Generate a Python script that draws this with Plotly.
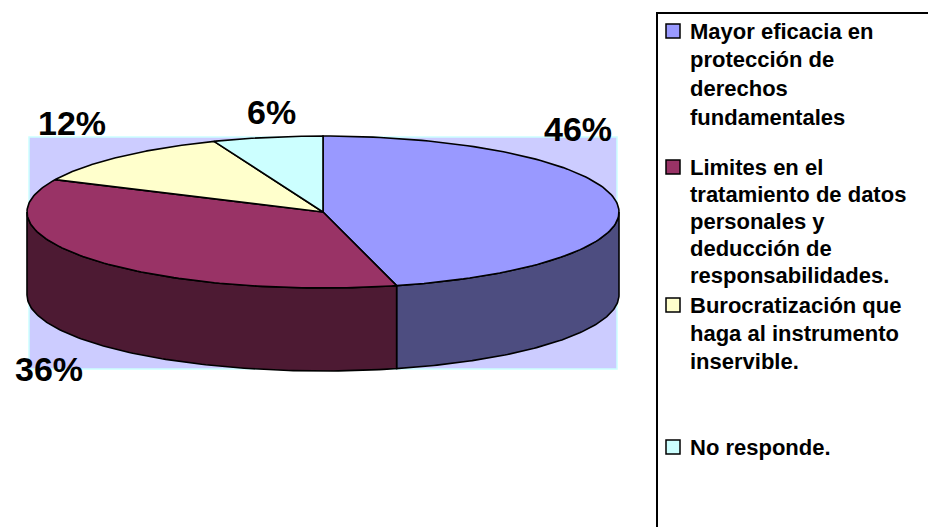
import numpy as np
import plotly.graph_objects as go

# ---- data ----
categories = [
    "Mayor eficacia en<br>protección de<br>derechos<br>fundamentales",
    "Limites en el<br>tratamiento de datos<br>personales y<br>deducción de<br>responsabilidades.",
    "Burocratización que<br>haga al instrumento<br>inservible.",
    "No responde.",
]
values = [46, 36, 12, 6]
labels = ["46%", "36%", "12%", "6%"]

# ---- styles / layout ----
top_colors = ["#9999FF", "#993366", "#FFFFCC", "#CCFFFF"]
side_colors = ["#4D4D80", "#4D1A33", "#80806A", "#6A8080"]
CX, CY, RX, RY, DEPTH = 323, 212, 296, 76, 83
label_pos = [(578, 129), (49, 369), (72, 123), (271, 112)]
legend_first_line_y = [31, 167, 305, 447]
legend_line_h = [28.7, 27.0, 28.0, 28.0]
FONT = "Liberation Sans, Arial, sans-serif"

fig = go.Figure()

total = float(sum(values))
bounds = np.concatenate([[0], np.cumsum(values)]) / total * 360.0


def rim(a0, a1, dy=0.0, n=120):
    t = np.radians(np.linspace(a0, a1, n))
    return CX + RX * np.sin(t), CY - RY * np.cos(t) + dy


# side walls (front half only: 90..270 deg)
for i in range(len(values)):
    a0, a1 = max(bounds[i], 90.0), min(bounds[i + 1], 270.0)
    if a1 <= a0:
        continue
    xt, yt = rim(a0, a1)
    xb, yb = rim(a0, a1, DEPTH)
    xs = np.concatenate([xt, xb[::-1], xt[:1]])
    ys = np.concatenate([yt, yb[::-1], yt[:1]])
    fig.add_trace(go.Scatter(x=xs, y=ys, mode="lines", fill="toself",
                             fillcolor=side_colors[i],
                             line=dict(color="black", width=1.6),
                             hoverinfo="skip", showlegend=False))

# top faces
for i in range(len(values)):
    xt, yt = rim(bounds[i], bounds[i + 1])
    xs = np.concatenate([[CX], xt, [CX]])
    ys = np.concatenate([[CY], yt, [CY]])
    fig.add_trace(go.Scatter(x=xs, y=ys, mode="lines", fill="toself",
                             fillcolor=top_colors[i],
                             line=dict(color="black", width=1.6),
                             hoverinfo="skip", showlegend=False))

shapes = [
    dict(type="rect", xref="x", yref="y", layer="below",
         x0=CX - RX + 2, x1=CX + RX - 2, y0=CY - RY + 1, y1=CY + RY + DEPTH - 2,
         fillcolor="#CCCCFF", line=dict(color="#CCFFFF", width=1.5)),
    dict(type="rect", xref="x", yref="y", x0=657, x1=960, y0=13, y1=560,
         fillcolor="rgba(0,0,0,0)", line=dict(color="black", width=2)),
]

annotations = []
for (lx, ly), txt in zip(label_pos, labels):
    annotations.append(dict(x=lx, y=ly, xref="x", yref="y", text="<b>" + txt + "</b>",
                            showarrow=False, xanchor="center", yanchor="middle",
                            font=dict(family=FONT, size=34, color="black")))

for i, cat in enumerate(categories):
    y0 = legend_first_line_y[i]
    shapes.append(dict(type="rect", xref="x", yref="y", x0=666, x1=680,
                       y0=y0 - 7, y1=y0 + 7, fillcolor=top_colors[i],
                       line=dict(color="black", width=1.5)))
    for j, line in enumerate(cat.split("<br>")):
        annotations.append(dict(x=688, y=y0 + j * legend_line_h[i], xref="x", yref="y",
                                text="<b>" + line + "</b>", showarrow=False,
                                xanchor="left", yanchor="middle",
                                font=dict(family=FONT, size=22, color="black")))

fig.update_layout(
    width=928, height=527, margin=dict(l=0, r=0, t=0, b=0),
    paper_bgcolor="white", plot_bgcolor="white",
    xaxis=dict(range=[0, 928], visible=False, fixedrange=True),
    yaxis=dict(range=[527, 0], visible=False, fixedrange=True),
    shapes=shapes, annotations=annotations, showlegend=False,
)

fig.write_html("out.html")
